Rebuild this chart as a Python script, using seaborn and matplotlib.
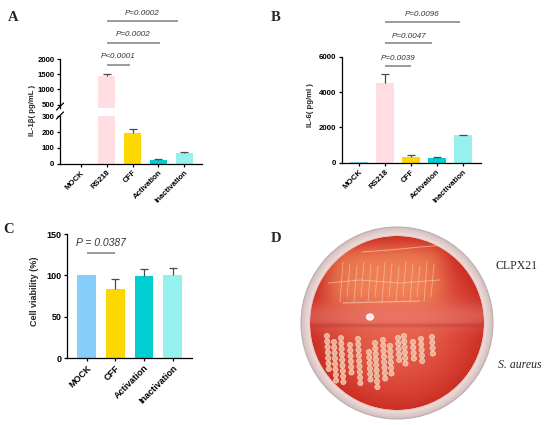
import numpy as np
import pandas as pd
import matplotlib
matplotlib.use("Agg")
import matplotlib.pyplot as plt
from matplotlib import transforms
from matplotlib.lines import Line2D
from matplotlib.patches import Ellipse, Circle
import seaborn as sns

# ---------------- data ----------------
groups_ab = ["MOCK", "RS218", "CFF", "Activation", "Inactivation"]
il1b_mean = [1, 1451, 194, 26, 68]
il1b_err = [0, 55, 27, 5, 8]
il6_mean = [20, 4500, 300, 270, 1555]
il6_err = [0, 530, 110, 30, 35]
groups_c = ["MOCK", "CFF", "Activation", "Inactivation"]
viab_mean = [100, 83, 99, 100]
viab_err = [0, 13, 9, 9]

# significance annotations: (x start, x end, label)
sig_a = [(1, 1.9, "P<0.0001"), (1, 3.05, "P=0.0002"), (1, 3.75, "P=0.0002")]
sig_b = [(1, 2.0, "P=0.0039"), (1, 2.82, "P=0.0047"), (1, 3.9, "P=0.0096")]
sig_c = [(0, 1, "P = 0.0387")]

palette = {"MOCK": "#87CEFA", "RS218": "#FFDDE0", "CFF": "#FFD700",
           "Activation": "#00CED1", "Inactivation": "#96F0EE"}

# ---------------- style ----------------
sns.set_style("ticks")
plt.rcParams["font.family"] = ["Liberation Sans", "DejaVu Sans"]
W, H = 550, 425
fig = plt.figure(figsize=(5.5, 4.25), dpi=100)


def rect(x0, y0, x1, y1):
    return [x0 / W, 1 - y1 / H, (x1 - x0) / W, (y1 - y0) / H]


def fy(y):
    return 1 - y / H


def style_axes(ax, fs, xlabels=True):
    for s in ["top", "right"]:
        ax.spines[s].set_visible(False)
    for s in ["left", "bottom"]:
        ax.spines[s].set_linewidth(0.9)
        ax.spines[s].set_color("black")
    ax.tick_params(axis="both", length=2.5, width=0.9, pad=1.5, labelsize=fs, colors="black")
    for lab in ax.get_yticklabels():
        lab.set_fontweight("bold")
    if xlabels:
        for lab in ax.get_xticklabels():
            lab.set_fontweight("bold")
            lab.set_rotation(45)
            lab.set_ha("right")
            lab.set_va("top")
            lab.set_rotation_mode("anchor")
    ax.set_xlabel("")
    ax.set_ylabel("")


def draw_bars(ax, groups, means, errs, width):
    df = pd.DataFrame({"group": groups, "value": means})
    sns.barplot(data=df, x="group", y="value", hue="group", palette=palette,
                width=width, saturation=1, legend=False, errorbar=None,
                linewidth=0, ax=ax)
    x = np.arange(len(groups))
    m = np.array(means, float)
    e = np.array(errs, float)
    mask = e > 0
    eb = ax.errorbar(x[mask], m[mask], yerr=[np.zeros(mask.sum()), e[mask]],
                     fmt="none", ecolor="#4a4a4a", elinewidth=0.9,
                     capsize=3.2, capthick=0.9)
    eb[1][0].set_visible(False)


def draw_sig(ax, sigs, line_y, text_y, fs):
    tr = transforms.blended_transform_factory(ax.transData, fig.transFigure)
    for (x0, x1, lab), ly, ty in zip(sigs, line_y, text_y):
        ax.plot([x0, x1], [fy(ly), fy(ly)], transform=tr, clip_on=False,
                color="#8a8a8a", lw=1.2, solid_capstyle="butt")
        ax.text((x0 + x1) / 2, fy(ty), lab, transform=tr, ha="center",
                va="center", style="italic", fontsize=fs, color="#333333")


# ---------------- Panel A (broken axis) ----------------
axA_top = fig.add_axes(rect(60, 59, 202, 108))
axA_bot = fig.add_axes(rect(60, 116.3, 202, 163.7))
for ax in (axA_top, axA_bot):
    draw_bars(ax, groups_ab, il1b_mean, il1b_err, 0.66)
    ax.set_xlim(-0.81, 4.69)
axA_top.set_ylim(390, 2000)
axA_top.set_yticks([500, 1000, 1500, 2000])
axA_bot.set_ylim(0, 300)
axA_bot.set_yticks([0, 100, 200, 300])
style_axes(axA_bot, 5.6)
style_axes(axA_top, 5.6, xlabels=False)
axA_top.spines["bottom"].set_visible(False)
axA_top.tick_params(axis="x", bottom=False, labelbottom=False)
for (x0, y0, x1, y1) in [(56.5, 110, 63.5, 103), (56.5, 119, 63.5, 112)]:
    fig.add_artist(Line2D([x0 / W, x1 / W], [fy(y0), fy(y1)], color="black", lw=0.9))
draw_sig(axA_bot, sig_a, [65, 43, 20.7], [57, 35, 13.3], 5.8)
fig.text(33 / W, fy(110), "IL-1β( pg/mL )", rotation=90, ha="center", va="center",
         fontsize=5.6, fontweight="bold")

# ---------------- Panel B ----------------
axB = fig.add_axes(rect(342, 56.7, 481, 162.7))
draw_bars(axB, groups_ab, il6_mean, il6_err, 0.7)
axB.set_xlim(-0.67, 4.71)
axB.set_ylim(0, 6000)
axB.set_yticks([0, 2000, 4000, 6000])
style_axes(axB, 5.7)
draw_sig(axB, sig_b, [66, 43.3, 22.3], [58.3, 36, 15], 5.8)
fig.text(310 / W, fy(105), "IL-6( pg/ml )", rotation=90, ha="center", va="center",
         fontsize=5.6, fontweight="bold")

# ---------------- Panel C ----------------
axC = fig.add_axes(rect(67, 234, 192, 358))
draw_bars(axC, groups_c, viab_mean, viab_err, 0.66)
axC.set_xlim(-0.69, 3.68)
axC.set_ylim(0, 150)
axC.set_yticks([0, 50, 100, 150])
style_axes(axC, 6.5)
draw_sig(axC, sig_c, [252.7], [243], 7.5)
fig.text(35 / W, fy(291), "Cell viability (%)", rotation=90, ha="center", va="center",
         fontsize=6.5, fontweight="bold")

# ---------------- Panel D (culture plate illustration) ----------------
axD = fig.add_axes(rect(275, 210, 550, 425))
axD.set_xlim(275, 550)
axD.set_ylim(425, 210)
axD.axis("off")
cx, cy = 397, 323
xs = np.arange(290, 505) + 0.5
ys = np.arange(220, 425) + 0.5
X, Y = np.meshgrid(xs, ys)
R = np.hypot(X - cx, Y - cy)
img = np.zeros(X.shape + (4,))
t = np.clip(R / 87, 0, 1)[..., None]
c_center = np.array([0.91, 0.38, 0.30])
c_edge = np.array([0.80, 0.18, 0.14])
agar = c_center * (1 - t ** 2) + c_edge * (t ** 2)
pinkband = np.exp(-((Y - 316) / 13) ** 2)[..., None]
agar = agar * (1 - 0.4 * pinkband) + np.array([0.93, 0.56, 0.52]) * 0.4 * pinkband
band = (np.exp(-((Y - 275) / 30) ** 4) * np.exp(-((X - 385) / 60) ** 6))[..., None]
agar = agar * (1 - 0.65 * band) + np.array([0.97, 0.60, 0.38]) * 0.65 * band
dark = np.exp(-((Y - 325.5) / 2.0) ** 2)[..., None] * (R < 86)[..., None]
agar = agar * (1 - 0.3 * dark) + np.array([0.60, 0.15, 0.20]) * 0.3 * dark
rim_t = np.clip((R - 87) / 9, 0, 1)[..., None]
rim = np.array([0.95, 0.88, 0.87]) * (1 - rim_t) + np.array([0.82, 0.74, 0.74]) * rim_t
inside = np.clip(87.5 - R, 0, 1)[..., None]
col = agar * inside + rim * (1 - inside)
img[..., :3] = col
img[..., 3] = np.clip(96.5 - R, 0, 1)
axD.imshow(img, extent=(290, 505, 425, 220), origin="upper", interpolation="bilinear", zorder=1)
axD.add_patch(Circle((cx, cy), 96, fill=False, ec="#bcaeae", lw=0.8, zorder=2))
axD.add_patch(Circle((cx, cy), 87.5, fill=False, ec="#e6c4bc", lw=0.7, zorder=2))
# streaks of CLPX21 (upper half)
streak_x = [340, 347, 354, 361, 368, 375, 382, 389, 396, 403, 410, 417, 424, 431]
for i, sx in enumerate(streak_x):
    axD.plot([sx + 3, sx], [262 + (i % 3) * 2, 302 - (i % 2) * 5], color="#f9d2ae",
             lw=0.6, alpha=0.6, zorder=3)
axD.plot([362, 390, 420, 445], [252, 250, 247, 245], color="#f9d8bc", lw=0.7, alpha=0.6, zorder=3)
axD.plot([328, 360, 400, 440], [283, 280, 283, 280], color="#f9d8bc", lw=0.7, alpha=0.55, zorder=3)
axD.plot([343, 380, 420], [303, 302, 301], color="#f9d8bc", lw=0.8, alpha=0.6, zorder=3)
axD.add_patch(Ellipse((370, 317), 7, 6, color="white", alpha=0.85, zorder=4))
# colonies of S. aureus (lower half): columns of round colonies
col_x = [327, 334, 341, 350, 358, 369, 375, 383, 390, 398, 404, 413, 421, 432]
col_top = [336, 342, 338, 345, 339, 352, 343, 340, 346, 338, 336, 342, 339, 337]
col_n = [7, 8, 9, 6, 9, 6, 9, 8, 6, 5, 6, 4, 5, 4]
for x_, t_, n_ in zip(col_x, col_top, col_n):
    for k in range(n_):
        axD.add_patch(Circle((x_ + 0.3 * k, t_ + 5.5 * k), 2.6, fc="#eebc9c",
                             ec="#f8dfcf", lw=0.5, alpha=0.9, zorder=3))

fig.text(517 / W, fy(266), "CLPX21", family=["Liberation Serif", "DejaVu Serif"],
         fontsize=8.5, ha="center", va="center")
fig.text(520 / W, fy(365), "S. aureus", family=["Liberation Serif", "DejaVu Serif"],
         fontsize=8.5, style="italic", ha="center", va="center")

# ---------------- panel letters ----------------
for lab, x, y in [("A", 13, 17.5), ("B", 276, 17.5), ("C", 9, 230), ("D", 276, 238)]:
    fig.text(x / W, fy(y), lab, family=["Liberation Serif", "DejaVu Serif"],
             fontsize=10.5, fontweight="bold", ha="center", va="center")

fig.savefig("out.png", dpi=100)
